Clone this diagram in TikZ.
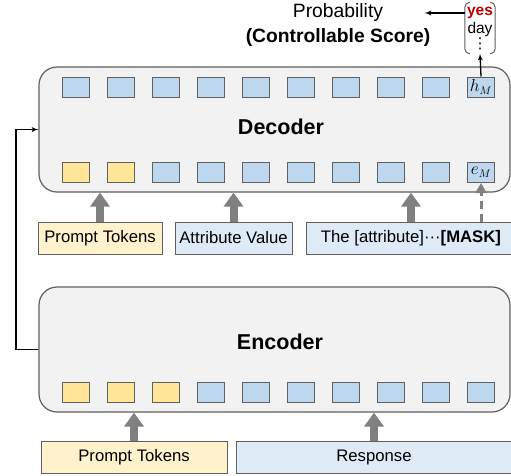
\documentclass[tikz,border=0pt]{standalone}
\usepackage{fontspec}
\setmainfont{Liberation Sans}
\newfontfamily\symfont{DejaVu Sans}
\usepackage{amsmath}
\usetikzlibrary{arrows,arrows.meta}
\definecolor{tokblue}{HTML}{BDD7EE}
\definecolor{tokyellow}{HTML}{FFE699}
\definecolor{inblue}{HTML}{DEEBF7}
\definecolor{inyellow}{HTML}{FFF2CC}
\definecolor{panel}{HTML}{F2F2F2}
\definecolor{edgegrey}{HTML}{606060}
\definecolor{fatgrey}{HTML}{808080}
\definecolor{yesred}{HTML}{C00000}
\tikzset{
    block/.style={draw=edgegrey,fill=panel,line width=1.2pt,rounded corners=18pt,minimum width=471pt,minimum height=125pt},
    token/.style={draw=edgegrey,fill=tokblue,line width=1pt,minimum width=27pt,minimum height=20pt,inner sep=0pt,font=\fontsize{16}{16}\selectfont},
    ptoken/.style={token,fill=tokyellow},
    inbox/.style={draw=edgegrey,line width=1pt,minimum height=32pt,inner sep=0pt,font=\fontsize{16.7}{18}\selectfont},
    title/.style={font=\fontsize{21.5}{24}\selectfont\bfseries},
    word/.style={inner sep=0pt,font=\fontsize{15.5}{16}\selectfont},
    fat/.style={draw=fatgrey,line width=8pt,-{Triangle[width=19pt,length=14pt]}},
    edge/.style={->,> = latex',line width=1.3pt}
}
\begin{document}
\begin{tikzpicture}[x=1pt,y=-1pt]
\useasboundingbox (0,0) rectangle (511,475);

\node[block] (dec) at (274.5,129.5) {};
\node[block] (enc) at (274.5,349.5) {};
\node[title] (dlab) at (281,127) {Decoder};
\node[title] (elab) at (280,342) {Encoder};

% token rows
\foreach \i in {1,...,9}
  \node[token] (dh\i) at ({75.5+45.06*(\i-1)},87) {};
\node[token] (dh10) at (481,87) {$h_M$};
\foreach \i in {1,2}
  \node[ptoken] (de\i) at ({75.5+45.06*(\i-1)},172.5) {};
\foreach \i in {3,...,9}
  \node[token] (de\i) at ({75.5+45.06*(\i-1)},172.5) {};
\node[token] (de10) at (481,172.5) {$e_M$};
\foreach \i in {1,2,3}
  \node[ptoken] (ee\i) at ({75.5+45.06*(\i-1)},392.5) {};
\foreach \i in {4,...,10}
  \node[token] (ee\i) at ({75.5+45.06*(\i-1)},392.5) {};

% inputs
\node[inbox,fill=inyellow,minimum width=124pt] (dp) at (100,238) {Prompt Tokens};
\node[inbox,fill=inblue,minimum width=117pt] (da) at (233.5,238) {Attribute Value};
\node[inbox,fill=inblue,minimum width=210pt] (dm) at (411,238) {The [attribute]···\textbf{[MASK]}};
\node[inbox,fill=inyellow,minimum width=186pt] (ep) at (134,457) {Prompt Tokens};
\node[inbox,fill=inblue,minimum width=276pt] (er) at (374,457) {Response};

\draw[fat] (dp.north) -- (dp.north |- dec.south);
\draw[fat] (da.north) -- (da.north |- dec.south);
\draw[fat] (dm.north) -- (dm.north |- dec.south);
\draw[fat] (ep.north) -- (ep.north |- enc.south);
\draw[fat] (er.north) -- (er.north |- enc.south);
\draw[draw=fatgrey,line width=3pt,dash pattern=on 8pt off 5pt,-{Triangle[width=11pt,length=10pt]}] (de10.south |- dm.north) -- (de10.south);

% output side
\node[minimum width=30pt,minimum height=51pt,inner sep=0pt] (vb) at (480,28) {};
\draw[edgegrey,line width=1pt,rounded corners=5pt] ([xshift=5pt]vb.north west) -- (vb.north west) -- (vb.south west) -- ([xshift=5pt]vb.south west);
\draw[edgegrey,line width=1pt,rounded corners=5pt] ([xshift=-5pt]vb.north east) -- (vb.north east) -- (vb.south east) -- ([xshift=-5pt]vb.south east);
\node[word,text=yesred,font=\fontsize{15.5}{16}\selectfont\bfseries] (yes) at (480,13) {yes};
\node[word] (day) at (480,29) {day};
\node[word,font=\fontsize{15}{15}\symfont] (dots) at (480,44) {⋮};
\node[font=\fontsize{19.3}{22}\selectfont] (pb) at (338,13) {Probability};
\node[font=\fontsize{19.3}{22}\selectfont\bfseries] (cs) at (338,38) {(Controllable Score)};
\draw[edge] (dh10.north) -- (vb.south);
\draw[edge] (vb.west |- yes) -- ([xshift=38pt]pb.east);
\draw[edge] (enc.west) -- (16,349.5) |- (dec.west);

\end{tikzpicture}
\end{document}
